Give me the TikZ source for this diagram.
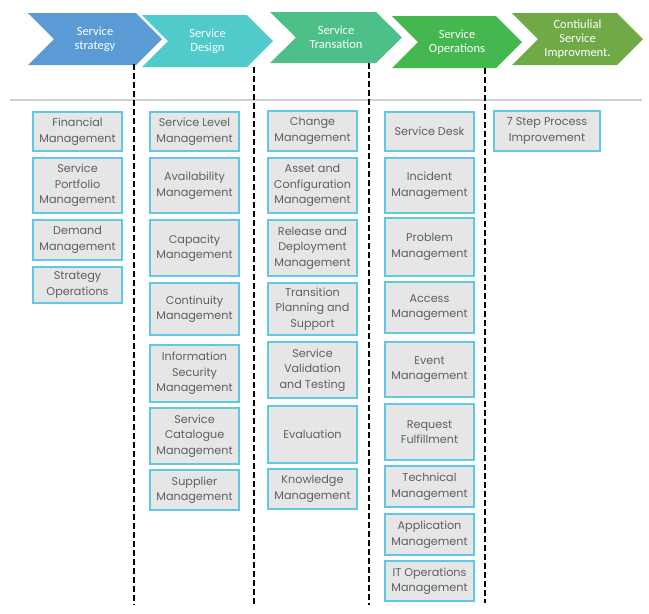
\documentclass[tikz,border=0pt]{standalone}
\usepackage{fontspec}
\setmainfont{Poppins}
\newfontfamily\chevfont{Carlito}
\usetikzlibrary{positioning}

\definecolor{boxfill}{RGB}{230,230,230}
\definecolor{boxline}{RGB}{96,200,224}
\definecolor{boxtext}{RGB}{95,95,95}
\definecolor{rulegray}{RGB}{210,210,210}
\definecolor{strategyc}{RGB}{91,155,213}
\definecolor{designc}{RGB}{80,202,202}
\definecolor{transc}{RGB}{76,192,136}
\definecolor{opsc}{RGB}{68,184,78}
\definecolor{csic}{RGB}{112,170,70}

\begin{document}
\begin{tikzpicture}[x=1pt, y=-1pt, node distance=7pt,
    proc/.style={rectangle, draw=boxline, fill=boxfill, line width=1.4pt, minimum width=89pt, inner sep=0pt, outer sep=0pt, text=boxtext, align=center, font=\fontsize{11.2}{15.5}\selectfont},
    chevtext/.style={text=white, align=center, font=\chevfont\fontsize{12.5}{14}\selectfont},
    sep/.style={line width=2.2pt, dash pattern=on 6pt off 3pt}]

\useasboundingbox (0,0) rectangle (649,614);

% Phase chevrons (top)
\fill[strategyc] (28,13) -- (136,13) -- (162,39) -- (136,65) -- (28,65) -- (54,39) -- cycle;
\fill[designc] (142,15) -- (247,15) -- (273,41) -- (247,67) -- (142,67) -- (168,41) -- cycle;
\fill[transc] (270,12) -- (376,12) -- (402,37.5) -- (376,63) -- (270,63) -- (296,37.5) -- cycle;
\fill[opsc] (392,16) -- (496,16) -- (522,42) -- (496,68) -- (392,68) -- (418,42) -- cycle;
\fill[csic] (512,13) -- (617,13) -- (643,39) -- (617,65) -- (512,65) -- (538,39) -- cycle;

\node[chevtext] (strategy) at (95,39) {Service\\strategy};
\node[chevtext] (design) at (207.5,41) {Service\\Design};
\node[chevtext] (transition) at (336,37.5) {Service\\Transation};
\node[chevtext] (operations) at (457,42) {Service\\Operations};
\node[chevtext] (improve) at (577.5,39) {Contiulial\\Service\\Improvment.};

% Rule under the phases
\draw[rulegray, line width=1.2pt] (10,100) -- (642,100);

% Separators
\coordinate (sepA) at (134,64);
\coordinate (sepB) at (254,67);
\coordinate (sepC) at (369,63);
\coordinate (sepD) at (485,68);
\draw[sep] (sepA) -- (sepA |- 0,605);
\draw[sep] (sepB) -- (sepB |- 0,605);
\draw[sep] (sepC) -- (sepC |- 0,605);
\draw[sep] (sepD) -- (sepD |- 0,603);

% Strategy processes
\node[proc, minimum height=39pt] (financial) at (77.5,131.5) {Financial\\Management};
\node[proc, minimum height=55pt, below=of financial] (portfolio) {Service\\Portfolio\\Management};
\node[proc, minimum height=40pt, below=of portfolio] (demand) {Demand\\Management};
\node[proc, minimum height=36pt, below=of demand] (stratops) {Strategy\\Operations};

% Design processes
\node[proc, minimum height=39pt] (level) at (194.5,131.5) {Service Level\\Management};
\node[proc, minimum height=55pt, below=of level] (availability) {Availability\\Management};
\node[proc, minimum height=56pt, below=of availability] (capacity) {Capacity\\Management};
\node[proc, minimum height=52pt, below=of capacity] (continuity) {Continuity\\Management};
\node[proc, minimum height=57pt, below=10pt of continuity] (security) {Information\\Security\\Management};
\node[proc, minimum height=56pt, below=6pt of security] (catalogue) {Service\\Catalogue\\Management};
\node[proc, minimum height=40pt, below=6pt of catalogue] (supplier) {Supplier\\Management};

% Transition processes
\node[proc, minimum height=40pt] (change) at (312.5,131) {Change\\Management};
\node[proc, minimum height=55pt, below=of change] (asset) {Asset and\\Configuration\\Management};
\node[proc, minimum height=56pt, below=of asset] (release) {Release and\\Deployment\\Management};
\node[proc, minimum height=52pt, below=of release] (planning) {Transition\\Planning and\\Support};
\node[proc, minimum height=56pt, below=of planning] (validation) {Service\\Validation\\and Testing};
\node[proc, minimum height=57pt, below=8pt of validation] (evaluation) {Evaluation};
\node[proc, minimum height=40pt, below=6pt of evaluation] (knowledge) {Knowledge\\Management};

% Operation processes
\node[proc, minimum height=39pt] (desk) at (429.5,131.5) {Service Desk};
\node[proc, minimum height=55pt, below=of desk] (incident) {Incident\\Management};
\node[proc, minimum height=58pt, below=5pt of incident] (problem) {Problem\\Management};
\node[proc, minimum height=51pt, below=6pt of problem] (access) {Access\\Management};
\node[proc, minimum height=55pt, below=9pt of access] (event) {Event\\Management};
\node[proc, minimum height=56pt, below=of event] (request) {Request\\Fulfillment};
\node[proc, minimum height=41pt, below=6pt of request] (technical) {Technical\\Management};
\node[proc, minimum height=41pt, below=of technical] (application) {Application\\Management};
\node[proc, minimum height=40pt, below=6pt of application] (itops) {IT Operations\\Management};

% Improvement process
\node[proc, minimum width=106pt, minimum height=40pt] (sevenstep) at (547,131) {7 Step Process\\Improvement};

\end{tikzpicture}
\end{document}
